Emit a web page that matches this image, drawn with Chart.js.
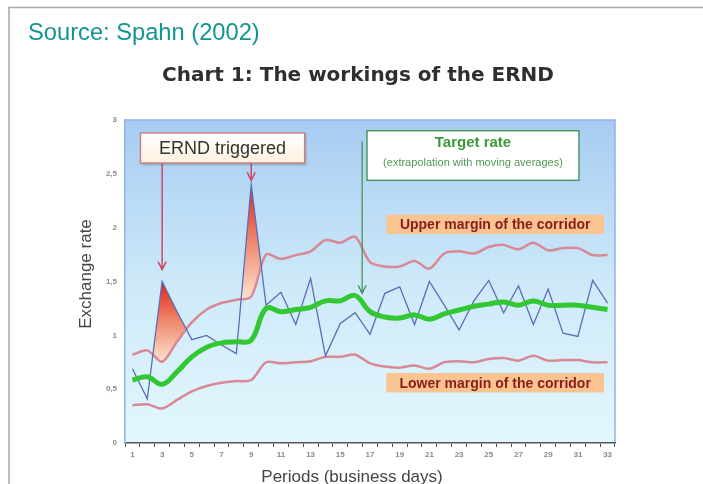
<!DOCTYPE html>
<html>
<head>
<meta charset="utf-8">
<title>Chart 1: The workings of the ERND</title>
<script src="https://cdn.jsdelivr.net/npm/chart.js"></script>
<style>
  body { margin: 0; background: #fff; }
  #wrap { width: 703px; height: 484px; }
</style>
</head>
<body>
<div id="wrap"><canvas id="myChart" width="703" height="484"></canvas></div>
<script>
// periods (business days)
const periods = ['1', '2', '3', '4', '5', '6', '7', '8', '9', '10', '11', '12', '13', '14', '15', '16', '17',
	'18', '19', '20', '21', '22', '23', '24', '25', '26', '27', '28', '29', '30', '31', '32', '33'];

// actual exchange rate (thin blue)
const exchangeRate = [0.69, 0.41, 1.50, 1.22, 0.96, 1.00, 0.91, 0.83, 2.40, 1.28, 1.40, 1.10, 1.53, 0.81, 1.11, 1.21, 1.01,
	1.39, 1.45, 1.10, 1.50, 1.28, 1.05, 1.32, 1.51, 1.21, 1.46, 1.10, 1.43, 1.02, 0.99, 1.51, 1.30];

// corridor
const upperMargin = [0.82, 0.86, 0.755, 0.94, 1.12, 1.24, 1.30, 1.33, 1.36, 1.75, 1.71, 1.745, 1.78, 1.885, 1.86, 1.915, 1.68,
	1.64, 1.64, 1.69, 1.62, 1.76, 1.78, 1.76, 1.82, 1.84, 1.80, 1.86, 1.79, 1.81, 1.81, 1.745, 1.745];
const lowerMargin = [0.35, 0.36, 0.32, 0.40, 0.48, 0.53, 0.56, 0.575, 0.585, 0.75, 0.74, 0.75, 0.76, 0.80, 0.80, 0.82, 0.74,
	0.71, 0.70, 0.72, 0.69, 0.75, 0.76, 0.75, 0.78, 0.79, 0.765, 0.81, 0.765, 0.77, 0.77, 0.75, 0.75];

// target rate (moving averages, thick green)
const targetRate = [0.585, 0.615, 0.545, 0.66, 0.80, 0.89, 0.93, 0.94, 0.955, 1.25, 1.22, 1.24, 1.26, 1.32, 1.32, 1.37, 1.22,
	1.17, 1.16, 1.19, 1.15, 1.20, 1.235, 1.27, 1.29, 1.31, 1.28, 1.32, 1.28, 1.28, 1.28, 1.26, 1.24];

const colors = {
	rate: '#5a6db6',
	corridor: '#d98896',
	target: '#33c833',
	ernd: '#c94a66',
	green: '#3c8f4c',
	label_bg: '#f9c48f',
	label_text: '#8a1c1c',
};

const font_family = '"Liberation Sans", Arial, sans-serif';

// helper: category index / value -> pixels
function px(chart, i) { return chart.scales.x.getPixelForValue(i); }
function py(chart, v) { return chart.scales.y.getPixelForValue(v); }

// plot background + outer frame + headings
const background = {
	id: 'background',
	beforeDraw(chart) {
		const {ctx, chartArea: a} = chart;
		ctx.save();
		ctx.fillStyle = '#fff';
		ctx.fillRect(0, 0, chart.width, chart.height);

		// gray frame
		ctx.strokeStyle = '#a8a8a8';
		ctx.lineWidth = 1.5;
		ctx.beginPath();
		ctx.moveTo(9, chart.height);
		ctx.lineTo(9, 7.5);
		ctx.lineTo(chart.width, 7.5);
		ctx.stroke();

		const g = ctx.createLinearGradient(0, a.top, 0, a.bottom);
		g.addColorStop(0, '#a7ccf2');
		g.addColorStop(0.5, '#cde9f9');
		g.addColorStop(1, '#e3f8fd');
		ctx.fillStyle = g;
		ctx.fillRect(a.left, a.top, a.right - a.left, a.bottom - a.top);
		ctx.strokeStyle = '#8fb2ea';
		ctx.lineWidth = 1.5;
		ctx.beginPath();
		ctx.moveTo(a.left, a.top);
		ctx.lineTo(a.right, a.top);
		ctx.lineTo(a.right, a.bottom);
		ctx.stroke();

		// source
		ctx.fillStyle = '#12968f';
		ctx.font = '23.7px ' + font_family;
		ctx.textAlign = 'left';
		ctx.textBaseline = 'alphabetic';
		ctx.fillText('Source: Spahn (2002)', 28, 40);

		// title, heavy face stretched to the width of the original heading
		const title = 'Chart 1: The workings of the ERND';
		ctx.fillStyle = '#2f2f2f';
		ctx.font = 'bold 20px "DejaVu Sans", ' + font_family;
		ctx.textAlign = 'center';
		const w = ctx.measureText(title).width;
		ctx.letterSpacing = Math.max(0, (390 - w) / (title.length - 1)).toFixed(2) + 'px';
		ctx.fillText(title, 358, 81);
		ctx.letterSpacing = '0px';

		// axis titles
		ctx.fillStyle = '#444';
		ctx.font = '17px ' + font_family;
		ctx.textBaseline = 'middle';
		ctx.fillText('Periods (business days)', 352, 477);
		ctx.save();
		ctx.translate(86, 274);
		ctx.rotate(-Math.PI / 2);
		ctx.fillText('Exchange rate', 0, 0);
		ctx.restore();
		ctx.restore();
	}
};

// red fill where the rate breaks through the upper margin
const spikeFill = {
	id: 'spikeFill',
	beforeDatasetsDraw(chart) {
		const {ctx, chartArea: a} = chart;
		const blue = chart.getDatasetMeta(0).data;
		const upperMeta = chart.getDatasetMeta(1);
		const up = upperMeta.data;
		const n = exchangeRate.length;
		ctx.save();
		ctx.beginPath();
		blue.forEach((p, i) => i ? ctx.lineTo(p.x, p.y) : ctx.moveTo(p.x, p.y));
		ctx.lineTo(blue[n - 1].x, a.bottom);
		ctx.lineTo(blue[0].x, a.bottom);
		ctx.closePath();
		ctx.clip();
		ctx.beginPath();
		upperMeta.dataset.path(ctx);
		ctx.lineTo(up[n - 1].x, a.top);
		ctx.lineTo(up[0].x, a.top);
		ctx.closePath();
		ctx.clip();

		let i = 0;
		while (i < n) {
			if (exchangeRate[i] > upperMargin[i]) {
				let j = i;
				while (j + 1 < n && exchangeRate[j + 1] > upperMargin[j + 1]) j++;
				const x0 = px(chart, Math.max(i - 1, 0));
				const x1 = px(chart, Math.min(j + 1, n - 1));
				const peak = Math.max(...exchangeRate.slice(i, j + 1));
				const base = Math.min(...upperMargin.slice(Math.max(i - 1, 0), j + 2));
				const g = ctx.createLinearGradient(0, py(chart, peak), 0, py(chart, base));
				g.addColorStop(0, '#e0221c');
				g.addColorStop(0.45, '#ee8064');
				g.addColorStop(1, '#fce4d0');
				ctx.fillStyle = g;
				ctx.fillRect(x0, a.top, x1 - x0, a.bottom - a.top);
				i = j + 1;
			} else {
				i++;
			}
		}
		ctx.restore();
	}
};

function arrow(ctx, x, y0, y1, color, width) {
	ctx.strokeStyle = color;
	ctx.lineWidth = width;
	ctx.beginPath();
	ctx.moveTo(x, y0);
	ctx.lineTo(x, y1);
	ctx.moveTo(x - 4, y1 - 8);
	ctx.lineTo(x, y1);
	ctx.lineTo(x + 4, y1 - 8);
	ctx.stroke();
}

// text boxes and arrows (positions in category index / value units)
const annotations = {
	id: 'annotations',
	afterDatasetsDraw(chart) {
		const ctx = chart.ctx;
		ctx.save();
		ctx.textAlign = 'center';
		ctx.textBaseline = 'middle';

		// ERND triggered
		let l = px(chart, 0.54), r = px(chart, 11.6), t = py(chart, 2.88), b = py(chart, 2.60);
		arrow(ctx, px(chart, 2), b, py(chart, 1.61), colors.ernd, 1.5);
		arrow(ctx, px(chart, 8), b, py(chart, 2.44), colors.ernd, 1.5);
		ctx.shadowColor = 'rgba(0,0,0,0.25)';
		ctx.shadowOffsetX = 1.5;
		ctx.shadowOffsetY = 1.5;
		ctx.shadowBlur = 2;
		let g = ctx.createLinearGradient(0, t, 0, b);
		g.addColorStop(0, '#ffffff');
		g.addColorStop(1, '#fff1df');
		ctx.fillStyle = g;
		ctx.fillRect(l, t, r - l, b - t);
		ctx.shadowColor = 'transparent';
		ctx.strokeStyle = '#c98080';
		ctx.lineWidth = 1.5;
		ctx.strokeRect(l, t, r - l, b - t);
		ctx.fillStyle = '#333';
		ctx.font = '18px ' + font_family;
		ctx.fillText('ERND triggered', (l + r) / 2, (t + b) / 2 + 1);

		// Target rate
		arrow(ctx, px(chart, 15.47), py(chart, 2.80), py(chart, 1.39), colors.green, 1.2);
		l = px(chart, 15.8); r = px(chart, 30.07); t = py(chart, 2.90); b = py(chart, 2.44);
		ctx.fillStyle = '#fff';
		ctx.fillRect(l, t, r - l, b - t);
		ctx.strokeStyle = colors.green;
		ctx.lineWidth = 1.3;
		ctx.strokeRect(l, t, r - l, b - t);
		ctx.fillStyle = '#3a9a3a';
		ctx.font = 'bold 15px ' + font_family;
		ctx.fillText('Target rate', (l + r) / 2, t + 12);
		ctx.fillStyle = '#4f9a55';
		ctx.font = '11px ' + font_family;
		ctx.fillText('(extrapolation with moving averages)', (l + r) / 2, t + 32);

		// corridor labels
		const labels = [['Upper margin of the corridor', 2.12, 1.94], ['Lower margin of the corridor', 0.65, 0.47]];
		ctx.font = 'bold 14px ' + font_family;
		labels.forEach(([text, v0, v1]) => {
			l = px(chart, 17.1); r = px(chart, 31.76); t = py(chart, v0); b = py(chart, v1);
			ctx.fillStyle = colors.label_bg;
			ctx.fillRect(l, t, r - l, b - t);
			ctx.fillStyle = colors.label_text;
			ctx.fillText(text, (l + r) / 2, (t + b) / 2 + 1);
		});
		ctx.restore();
	}
};

const data = {
	labels: periods,
	datasets: [
		{
			label: 'Exchange rate',
			data: exchangeRate,
			borderColor: colors.rate,
			borderWidth: 1.3,
			tension: 0,
			order: 2,
		},
		{
			label: 'Upper margin of the corridor',
			data: upperMargin,
			borderColor: colors.corridor,
			borderWidth: 2.5,
			tension: 0.3,
			order: 3,
		},
		{
			label: 'Lower margin of the corridor',
			data: lowerMargin,
			borderColor: colors.corridor,
			borderWidth: 2.5,
			tension: 0.3,
			order: 4,
		},
		{
			label: 'Target rate',
			data: targetRate,
			borderColor: colors.target,
			borderWidth: 5,
			tension: 0.4,
			order: 1,
		},
	],
};

const config = {
	type: 'line',
	data: data,
	options: {
		responsive: false,
		animation: false,
		devicePixelRatio: 1,
		layout: { padding: { left: 0, top: 120, right: 88, bottom: 0 } },
		elements: { point: { radius: 0 } },
		plugins: {
			legend: { display: false },
			title: { display: false },
			tooltip: { enabled: false },
		},
		scales: {
			x: {
				offset: true,
				afterFit: (scale) => { scale.height = 41; },
				grid: { display: true, drawOnChartArea: false, drawTicks: true, tickLength: 4, color: '#555', offset: true },
				border: { display: true, color: '#555', width: 1.5 },
				ticks: {
					autoSkip: false,
					maxRotation: 0,
					padding: 3,
					color: '#8a8a8a',
					font: { family: font_family, size: 8, weight: 'bold' },
					callback: (v, i) => (i % 2 === 0 ? periods[i] : ''),
				},
			},
			y: {
				min: 0,
				max: 3,
				afterFit: (scale) => { scale.width = 125; },
				grid: { display: false },
				border: { display: true, color: '#8fb2ea', width: 1.5 },
				ticks: {
					stepSize: 0.5,
					padding: 0,
					color: '#8a8a8a',
					font: { family: font_family, size: 8, weight: 'bold' },
					callback: (v) => String(v).replace('.', ','),
				},
			},
		},
	},
	plugins: [background, spikeFill, annotations],
};

var myChart = new Chart(document.getElementById('myChart'), config);
</script>
</body>
</html>
